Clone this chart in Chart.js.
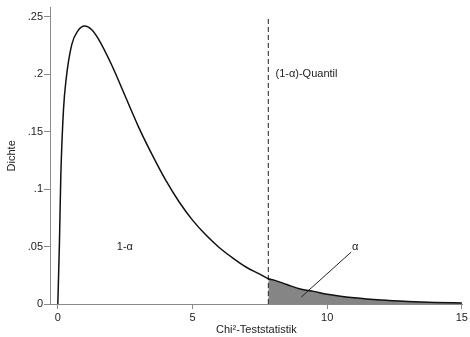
<!DOCTYPE html>
<html>
<head>
<meta charset="utf-8">
<script src="https://cdn.jsdelivr.net/npm/chart.js@4"></script>
<style>
  html, body { margin: 0; padding: 0; background: #fff; }
  canvas { display: block; }
</style>
</head>
<body>
<canvas id="chi-chart" width="470" height="337"></canvas>
<script>
// density curve (x = test statistic, y = density)
const densityX = [0, 0.06, 0.11, 0.21, 0.31, 0.52, 0.75, 1, 1.25, 1.5, 2, 2.5, 3, 3.5, 4, 4.5, 5,
                  5.5, 6, 6.5, 7, 7.5, 7.815, 8, 8.5, 9, 9.5, 10, 11, 12, 13, 14, 15];
const densityY = [0, 0.053, 0.11, 0.169, 0.196, 0.226, 0.238, 0.242, 0.239, 0.231, 0.208, 0.181, 0.154, 0.13, 0.108, 0.089, 0.073,
                  0.06, 0.049, 0.04, 0.032, 0.026, 0.022, 0.021, 0.017, 0.013, 0.011, 0.0085, 0.0054, 0.0034, 0.0022, 0.0014, 0.0009];

const quantile = 7.815;
const quantileTop = 0.25;

const xTicks = [0, 5, 10, 15];
const xTickLabels = ["0", "5", "10", "15"];
const yTicks = [0, 0.05, 0.1, 0.15, 0.2, 0.25];
const yTickLabels = ["0", ".05", ".1", ".15", ".2", ".25"];

// pointer from the alpha label into the shaded tail
const pointerX = [9.04, 10.89];
const pointerY = [0.0061, 0.0452];

// text labels inside the plot
const noteTexts = ["(1-\u03b1)-Quantil", "1-\u03b1", "\u03b1"];
const noteX = [8.08, 2.49, 11.04];
const noteY = [0.2, 0.0496, 0.0496];
const noteAlign = ["left", "center", "center"];

const fontFamily = "'Liberation Sans', Arial, Helvetica, sans-serif";
const axisGray = "#8a8a8a";

const curvePoints = densityX.map((x, i) => ({ x: x, y: densityY[i] }));
const tailPoints = curvePoints.filter(p => p.x >= quantile);

const notesPlugin = {
    id: "notes",
    afterDatasetsDraw(chart) {
        const ctx = chart.ctx;
        const xs = chart.scales.x, ys = chart.scales.y;
        ctx.save();
        ctx.fillStyle = "#222";
        ctx.font = "11px " + fontFamily;
        ctx.textBaseline = "middle";
        noteTexts.forEach((t, i) => {
            ctx.textAlign = noteAlign[i];
            ctx.fillText(t, xs.getPixelForValue(noteX[i]), ys.getPixelForValue(noteY[i]));
        });
        ctx.restore();
    }
};

new Chart(document.getElementById("chi-chart"), {
    type: "line",
    data: {
        datasets: [
            {
                data: curvePoints,
                borderColor: "#111",
                borderWidth: 1.5,
                cubicInterpolationMode: "monotone",
                fill: false,
                order: 0
            },
            {
                data: tailPoints,
                borderWidth: 0,
                borderColor: "rgba(0,0,0,0)",
                backgroundColor: "#858585",
                cubicInterpolationMode: "monotone",
                fill: "origin",
                order: 2
            },
            {
                data: [{ x: quantile, y: 0 }, { x: quantile, y: quantileTop }],
                borderColor: "#222",
                borderWidth: 1,
                borderDash: [5, 3],
                fill: false,
                order: 1
            },
            {
                data: pointerX.map((x, i) => ({ x: x, y: pointerY[i] })),
                borderColor: "#222",
                borderWidth: 1,
                fill: false,
                order: 0
            }
        ]
    },
    options: {
        responsive: false,
        devicePixelRatio: 1,
        animation: false,
        elements: { point: { radius: 0 }, line: { tension: 0 } },
        layout: { padding: { top: 7, right: 6, left: 0, bottom: 0 } },
        plugins: { legend: { display: false }, tooltip: { enabled: false } },
        scales: {
            x: {
                type: "linear",
                min: -0.29,
                max: 15.03,
                afterBuildTicks: axis => { axis.ticks = xTicks.map(v => ({ value: v })); },
                afterFit: axis => { axis.height = 33; },
                ticks: {
                    autoSkip: false,
                    maxRotation: 0,
                    padding: 2,
                    color: "#222",
                    font: { family: fontFamily, size: 11 },
                    callback: (v) => xTickLabels[xTicks.indexOf(v)]
                },
                grid: { drawOnChartArea: false, drawTicks: true, tickLength: 5, color: axisGray },
                border: { color: axisGray, width: 1 },
                title: {
                    display: true,
                    text: "Chi\u00b2-Teststatistik",
                    color: "#222",
                    font: { family: fontFamily, size: 11 },
                    padding: { top: 0, bottom: 0 }
                }
            },
            y: {
                type: "linear",
                min: 0,
                max: 0.258,
                afterBuildTicks: axis => { axis.ticks = yTicks.map(v => ({ value: v })); },
                afterFit: axis => { axis.width = 50; },
                ticks: {
                    autoSkip: false,
                    padding: 1,
                    color: "#222",
                    font: { family: fontFamily, size: 11 },
                    callback: (v) => yTickLabels[yTicks.indexOf(v)]
                },
                grid: { drawOnChartArea: false, drawTicks: true, tickLength: 6, color: axisGray },
                border: { color: axisGray, width: 1 },
                title: {
                    display: true,
                    text: "Dichte",
                    color: "#222",
                    font: { family: fontFamily, size: 11 },
                    padding: { top: 5, bottom: 0 }
                }
            }
        }
    },
    plugins: [notesPlugin]
});
</script>
</body>
</html>
